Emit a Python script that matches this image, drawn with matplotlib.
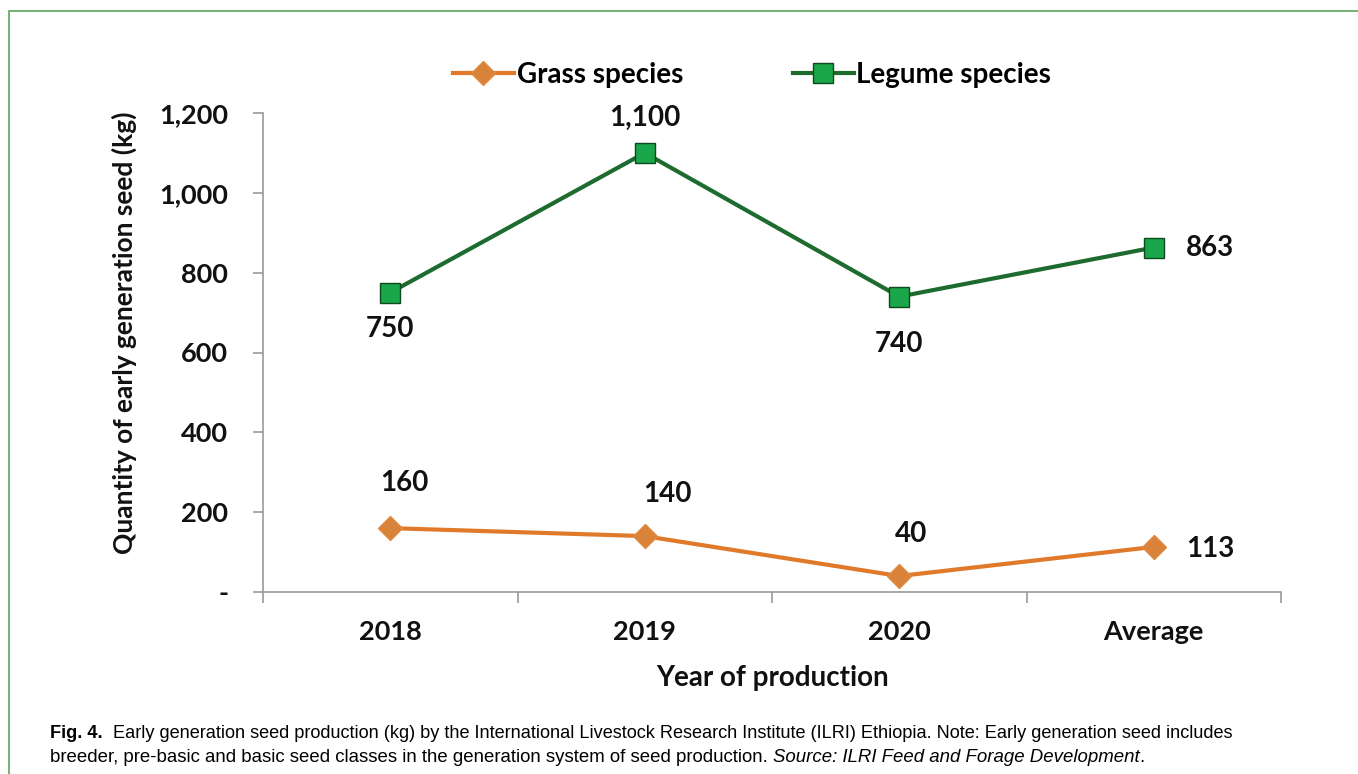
import matplotlib.pyplot as plt
from matplotlib.patches import Rectangle
from matplotlib.ticker import FuncFormatter

# seed quantities (kg) per production year
years = ["2018", "2019", "2020", "Average"]
grass = [160, 140, 40, 113]
legume = [750, 1100, 740, 863]

# label offsets in pixels from each point
grass_offsets = [(14, 45), (23, 42), (12, 42), (32, -2)]
legume_offsets = [(0, -36), (0, 35), (0, -47), (32, 0)]

plt.rcParams['font.family'] = ['Lato', 'DejaVu Sans']

fig = plt.figure(figsize=(13.58, 7.74), dpi=100)
ax = fig.add_axes([263 / 1358, 1 - 592 / 774, (1281 - 263) / 1358, (592 - 113) / 774])

# outer frame (left and top edges visible)
fig.patches.append(Rectangle((9 / 1358, -0.1), 1.2, 1 - 11 / 774 + 0.1,
                             transform=fig.transFigure, fill=False,
                             edgecolor='#5aa65a', linewidth=1.2))

x = range(len(years))
ax.plot(x, grass, color='#e07a2a', linewidth=3, marker='D', markersize=12,
        markerfacecolor='#d9823a', markeredgecolor='#e08a40', label='Grass species')
ax.plot(x, legume, color='#1d6b2e', linewidth=3, marker='s', markersize=14,
        markerfacecolor='#1aa64a', markeredgecolor='#0f4a1c', label='Legume species')

for xi, v, (dx, dy) in zip(x, grass, grass_offsets):
    ha = 'left' if years[xi] == 'Average' else 'center'
    ax.annotate(str(v), (xi, v), xytext=(dx, dy), textcoords='offset pixels',
                ha=ha, va='center', fontsize=20, fontweight='bold', color='#111111')
for xi, v, (dx, dy) in zip(x, legume, legume_offsets):
    ha = 'left' if years[xi] == 'Average' else 'center'
    ax.annotate(f"{v:,}", (xi, v), xytext=(dx, dy), textcoords='offset pixels',
                ha=ha, va='center', fontsize=20, fontweight='bold', color='#111111')

ax.set_xlim(-0.5, 3.5)
ax.set_ylim(0, 1200)
ax.set_yticks(range(0, 1201, 200))
ax.yaxis.set_major_formatter(FuncFormatter(lambda v, p: '-' if v == 0 else f"{int(v):,}"))
ax.set_xticks(list(x))
ax.set_xticklabels(years)
ax.set_xticks([i - 0.5 for i in range(5)], minor=True)
ax.tick_params(axis='x', which='major', length=0, pad=20, labelsize=19.5)
ax.tick_params(axis='x', which='minor', length=8, color='#999999', width=1.2)
ax.tick_params(axis='y', length=7, color='#999999', width=1.2, pad=18, labelsize=19.5)
for lab in ax.get_xticklabels() + ax.get_yticklabels():
    lab.set_fontweight('bold')
    lab.set_color('#111111')

for side in ['top', 'right']:
    ax.spines[side].set_visible(False)
for side in ['left', 'bottom']:
    ax.spines[side].set_color('#999999')
    ax.spines[side].set_linewidth(1.2)
for line in ax.lines:
    line.set_clip_on(False)

ax.set_xlabel('Year of production', fontsize=20, fontweight='bold', labelpad=15, color='#111111')
ax.set_ylabel('Quantity of early generation seed (kg)', fontsize=19, fontweight='bold',
              color='#111111')
ax.yaxis.set_label_coords(-0.1238, 0.5418)

fig.legend(loc='center', bbox_to_anchor=(752 / 1358, 1 - 75 / 774), ncol=2, frameon=False,
           handlelength=2.2, columnspacing=3.95, handletextpad=0.1,
           prop={'weight': 'bold', 'size': 20})

# caption, written piece by piece so the mixed styles run on
cap_font = ['Liberation Sans', 'DejaVu Sans']
renderer = fig.canvas.get_renderer()


def caption_line(pieces, x0, y, size):
    xpos = x0
    for txt, kw in pieces:
        t = fig.text(xpos / 1358, 1 - y / 774, txt, family=cap_font, fontsize=size,
                     va='center', **kw)
        xpos += t.get_window_extent(renderer).width


caption_line([('Fig. 4.', {'fontweight': 'bold'}),
              ('  Early generation seed production (kg) by the International Livestock '
               'Research Institute (ILRI) Ethiopia. Note: Early generation seed includes', {})],
             50, 733, 13.1)
caption_line([('breeder, pre-basic and basic seed classes in the generation system of seed '
               'production. ', {}),
              ('Source: ILRI Feed and Forage Development', {'style': 'italic'}),
              ('.', {})],
             50, 757, 13.45)

fig.savefig('out.png', dpi=100)
